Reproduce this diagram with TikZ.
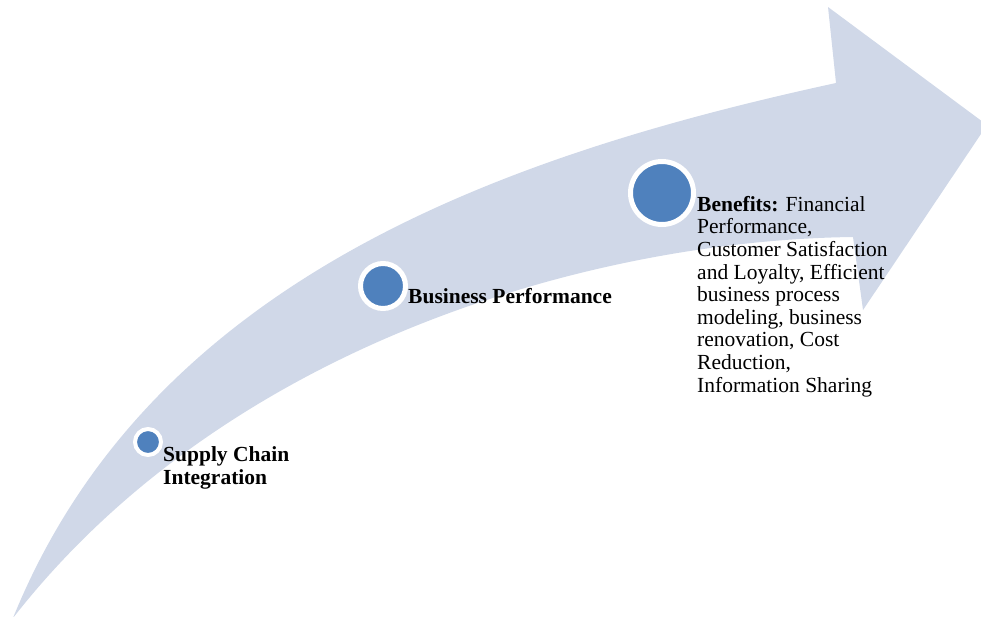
\documentclass[tikz,border=0pt]{standalone}
\usepackage{fontspec}
\setmainfont{Liberation Serif}
\definecolor{bandblue}{HTML}{D0D8E8}
\definecolor{dotblue}{HTML}{4F81BD}

\begin{document}
\begin{tikzpicture}[x=1pt, y=-1pt,
  dot/.style={circle, fill=dotblue, draw=white, inner sep=0pt},
  txt/.style={inner sep=0pt, align=left, font=\fontsize{21.5}{22.6}\selectfont},
  boldtxt/.style={txt, font=\fontsize{21.5}{22.6}\selectfont\bfseries}]
\useasboundingbox (0,0) rectangle (981,616);
\clip (0,0) rectangle (981,616);
\fill[bandblue] (13,618) .. controls (150,280) and (500,156) .. (836,83)
  -- (828,7) -- (987,125) -- (863,310) -- (853,237)
  .. controls (600,240) and (230,340) .. (13,618) -- cycle;
\node[dot, line width=4pt, minimum size=26pt] (sci) at (148,442) {};
\node[dot, line width=5pt, minimum size=45pt] (bp) at (383,286) {};
\node[dot, line width=5pt, minimum size=63pt] (ben) at (662,193) {};
\node[boldtxt, anchor=north west] (scitxt) at (163,446.5) {Supply Chain\\Integration};
\node[boldtxt, anchor=base west] (bptxt) at (408,303) {Business Performance};
\node[txt, anchor=north west] (bentxt) at (697,196) {\textbf{Benefits:} Financial\\Performance,\\Customer Satisfaction\\and Loyalty, Efficient\\business process\\modeling, business\\renovation, Cost\\Reduction,\\Information Sharing};
\end{tikzpicture}
\end{document}
